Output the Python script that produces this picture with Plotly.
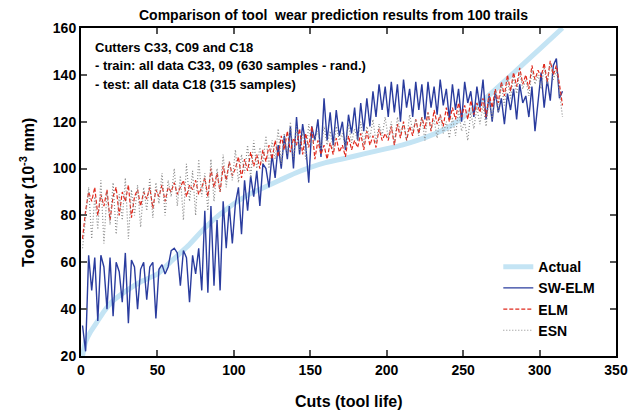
import plotly.graph_objects as go

# sample cuts for predicted series (every 2nd cut)
cuts = list(range(1, 316, 2))

sw_elm = [
    33, 22, 63, 48, 62, 35, 63, 58, 40, 62,
    37, 60, 56, 43, 64, 34, 61, 58, 40, 57,
    60, 44, 58, 60, 36, 57, 59, 55, 58, 65,
    66, 64, 50, 65, 62, 43, 63, 55, 66, 48,
    82, 47, 84, 50, 78, 48, 86, 66, 84, 68,
    85, 92, 72, 95, 82, 97, 88, 99, 84, 102,
    100, 92, 106, 96, 110, 100, 114, 104, 118, 100,
    122, 106, 119, 110, 94, 118, 112, 121, 105, 130,
    112, 124, 110, 125, 114, 120, 108, 123, 115, 126,
    112, 128, 116, 130, 118, 133, 122, 136, 125, 135,
    122, 137, 124, 136, 120, 138, 126, 134, 122, 137,
    125, 136, 121, 137, 126, 135, 123, 138, 127, 134,
    121, 136, 125, 134, 120, 137, 128, 133, 122, 135,
    126, 138, 121, 131, 120, 133, 124, 130, 119, 132,
    125, 134, 121, 136, 128, 131, 122, 135, 116, 130,
    141, 126, 138, 129, 144, 147, 130, 133,
]

elm = [
    70, 82, 90, 86, 92, 80, 89, 84, 91, 78,
    88, 92, 80, 90, 86, 93, 79, 88, 91, 84,
    90, 87, 92, 83, 91, 88, 93, 86, 92, 90,
    94, 89, 92, 95, 88, 93, 91, 95, 89, 92,
    96, 88, 100, 92, 98, 90, 101, 95, 103, 97,
    100, 105, 96, 104, 99, 107, 101, 106, 100, 108,
    103, 110, 104, 112, 105, 114, 108, 116, 107, 113,
    110, 117, 106, 115, 109, 118, 104, 112, 106, 110,
    104, 111, 106, 113, 107, 110, 105, 114, 108, 112,
    109, 115, 108, 116, 110, 114, 109, 117, 112, 115,
    112, 118, 110, 119, 113, 120, 112, 118, 114, 121,
    115, 122, 117, 124, 116, 125, 119, 123, 118, 126,
    120, 126, 121, 128, 122, 127, 121, 129, 123, 128,
    124, 130, 122, 132, 126, 134, 128, 137, 131, 140,
    133, 141, 135, 143, 136, 140, 134, 144, 138, 142,
    139, 145, 137, 146, 140, 144, 136, 127,
]

esn = [
    66, 78, 92, 70, 88, 74, 95, 68, 90, 76,
    94, 72, 89, 78, 96, 70, 91, 80, 93, 75,
    92, 82, 96, 79, 94, 85, 98, 80, 95, 88,
    100, 84, 97, 78, 102, 86, 99, 80, 104, 88,
    98, 82, 104, 86, 100, 90, 106, 92, 103, 95,
    108, 94, 106, 98, 110, 96, 112, 100, 109, 102,
    114, 100, 112, 104, 117, 102, 115, 106, 120, 104,
    118, 108, 115, 104, 119, 110, 113, 116, 108, 118,
    110, 116, 108, 118, 112, 115, 109, 119, 111, 117,
    112, 120, 110, 118, 113, 121, 111, 119, 114, 122,
    113, 120, 111, 122, 115, 119, 112, 123, 116, 121,
    114, 122, 112, 124, 117, 121, 113, 123, 115, 120,
    113, 122, 114, 125, 116, 120, 112, 124, 117, 126,
    119, 127, 118, 130, 121, 133, 124, 136, 127, 138,
    130, 139, 132, 141, 134, 138, 131, 142, 136, 140,
    134, 143, 136, 145, 138, 142, 133, 122,
]

actual_cuts = [1, 3, 6, 10, 15, 20, 30, 40, 50, 60, 70, 80, 90, 100, 110, 120,
               130, 140, 150, 160, 170, 180, 190, 200, 210, 220, 230, 240, 250,
               263, 280, 300, 315]
actual = [20, 26, 30, 34, 39, 43, 48, 52, 55, 61, 67, 74, 80, 85, 89, 92,
          95, 98, 100.5, 102.5, 104, 105.5, 107, 108.5, 110, 112, 114.5, 117.5, 122,
          129, 139, 151, 160]

info_lines = [
    "Cutters C33, C09 and C18",
    "- train: all data C33, 09 (630 samples - rand.)",
    "- test: all data C18 (315 samples)",
]

FONT = "Liberation Sans, Arial, sans-serif"

fig = go.Figure()
fig.add_trace(go.Scatter(x=actual_cuts, y=actual, mode="lines", name="Actual",
                         line=dict(color="#c4e4f4", width=5, shape="spline", smoothing=0.5)))
fig.add_trace(go.Scatter(x=cuts, y=sw_elm, mode="lines", name="SW-ELM",
                         line=dict(color="#2a3c9e", width=1.4)))
fig.add_trace(go.Scatter(x=cuts, y=elm, mode="lines", name="ELM",
                         line=dict(color="#e02a1e", width=1.2, dash="4px,2px")))
fig.add_trace(go.Scatter(x=cuts, y=esn, mode="lines", name="ESN",
                         line=dict(color="#8a8a8a", width=1.2, dash="1px,2px")))

axis_common = dict(showgrid=False, zeroline=False, showline=True, linecolor="black",
                   linewidth=2, mirror="ticks", ticks="inside", ticklen=6,
                   tickcolor="#555555", tickwidth=1.5,
                   tickfont=dict(family=FONT, size=14, color="black", weight="bold"))

fig.update_xaxes(range=[0, 350], dtick=50, tick0=0, **axis_common)
fig.update_yaxes(range=[20, 160], dtick=20, tick0=20, **axis_common)

annotations = [
    dict(text="<b>Comparison of tool  wear prediction results from 100 trails</b>",
         xref="paper", yref="paper", x=0.5, y=1.0, yshift=3, xshift=-15,
         xanchor="center", yanchor="bottom", showarrow=False,
         font=dict(family=FONT, size=14, color="black")),
    dict(text="<b>Tool wear (10<sup>-3</sup> mm)</b>",
         xref="paper", yref="paper", x=-0.101, y=0.5, textangle=-90,
         xanchor="center", yanchor="middle", showarrow=False,
         font=dict(family=FONT, size=16, color="black")),
    dict(text="<b>Cuts (tool life)</b>",
         xref="paper", yref="paper", x=0.5, y=-0.14,
         xanchor="center", yanchor="middle", showarrow=False,
         font=dict(family=FONT, size=16, color="black")),
]
for i, line in enumerate(info_lines):
    annotations.append(dict(
        text="<b>" + line + "</b>", xref="paper", yref="paper",
        x=0.022, y=(356 - 47 - i * 18.5) / 328,
        xanchor="left", yanchor="middle", align="left", showarrow=False,
        font=dict(family=FONT, size=13, color="black")))

fig.update_layout(
    width=639, height=413,
    margin=dict(l=81, r=23, t=28, b=57),
    plot_bgcolor="white", paper_bgcolor="white",
    showlegend=True,
    legend=dict(x=0.78, y=0.32, xanchor="left", yanchor="top",
                bgcolor="rgba(0,0,0,0)",
                font=dict(family=FONT, size=14, color="black", weight="bold"),
                itemwidth=30, tracegroupgap=0),
    annotations=annotations,
)

fig.write_html("out.html")
